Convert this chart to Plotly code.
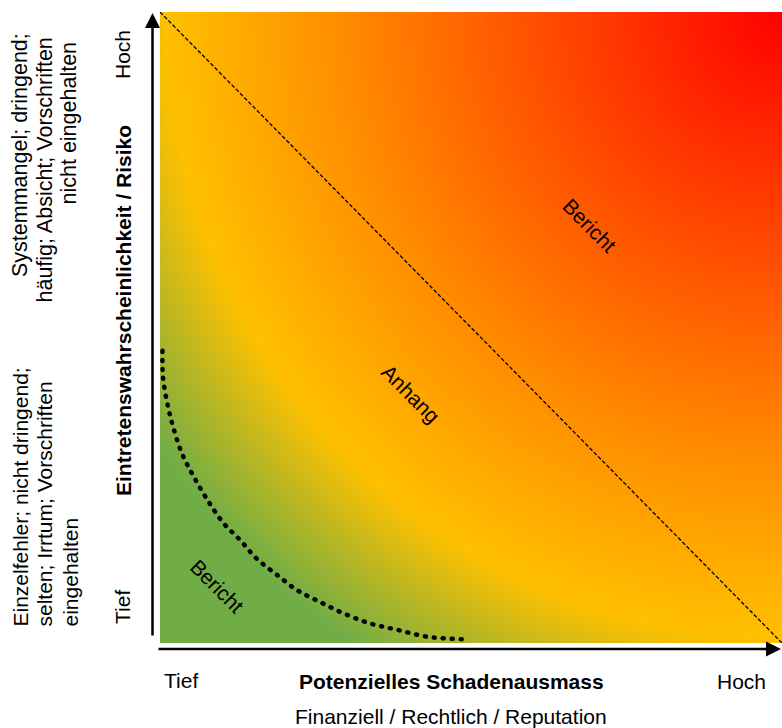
import numpy as np
import plotly.graph_objects as go

W, H = 782, 728
FONT = "Liberation Sans, Arial, sans-serif"

# ---- texts ----
x_title = "Potenzielles Schadenausmass"
x_subtitle = "Finanziell / Rechtlich / Reputation"
y_title = "Eintretenswahrscheinlichkeit / Risiko"
tick_low, tick_high = "Tief", "Hoch"
high_desc = ["Systemmangel; dringend;", "häufig; Absicht; Vorschriften", "nicht eingehalten"]
low_desc = ["Einzelfehler; nicht dringend;", "selten; Irrtum; Vorschriften", "eingehalten"]

# ---- zone labels (data coords: x = Schadenausmass 0..1, y = Wahrscheinlichkeit 0..1) ----
zone_labels = ["Bericht", "Anhang", "Bericht"]
zone_x = [0.691, 0.403, 0.092]
zone_y = [0.662, 0.396, 0.089]

# ---- threshold lines ----
diag_x = [0.0, 1.0]
diag_y = [1.0, 0.0]
curve_x = [0.004, 0.005, 0.013, 0.021, 0.035, 0.054, 0.078, 0.102, 0.129, 0.155,
           0.188, 0.220, 0.257, 0.295, 0.338, 0.381, 0.429, 0.485]
curve_y = [0.463, 0.420, 0.374, 0.343, 0.301, 0.264, 0.224, 0.190, 0.163, 0.134,
           0.108, 0.084, 0.065, 0.047, 0.031, 0.021, 0.010, 0.006]

# ---- background gradient (radial from the high/high corner) ----
grad_stops = [0.0, 0.50, 0.70, 0.86, 1.0]
grad_colors = ["#FF0000", "#FF8C00", "#FFC000", "#70AD47", "#70AD47"]

N = 240
gx = np.linspace(0, 1, N)
gy = np.linspace(0, 1, N)
GX, GY = np.meshgrid(gx, gy)
Z = np.sqrt((1 - GX) ** 2 + (1 - GY) ** 2) / np.sqrt(2)

fig = go.Figure()
fig.add_trace(go.Heatmap(
    x=gx, y=gy, z=Z, zmin=0, zmax=1, zsmooth="best",
    colorscale=[[s, c] for s, c in zip(grad_stops, grad_colors)],
    showscale=False, hoverinfo="skip"))

fig.add_trace(go.Scatter(x=diag_x, y=diag_y, mode="lines",
                         line=dict(color="black", width=1.3, dash="4px,2px"),
                         hoverinfo="skip", showlegend=False))
fig.add_trace(go.Scatter(x=curve_x, y=curve_y, mode="lines",
                         line=dict(color="black", width=4.5, dash="1px,8px", shape="spline"),
                         hoverinfo="skip", showlegend=False))

x0, y0 = 160, 643   # pixel position of plot corner (for domain)
x1, y1 = 782, 12

def px(x):
    return x / W

def py(y):
    return 1 - y / H

fig.update_layout(
    width=W, height=H,
    margin=dict(l=0, r=0, t=0, b=0),
    paper_bgcolor="white", plot_bgcolor="white",
    showlegend=False,
    xaxis=dict(domain=[px(x0), px(x1)], range=[0, 1], visible=False, fixedrange=True),
    yaxis=dict(domain=[py(y0), py(y1)], range=[0, 1], visible=False, fixedrange=True),
)

ann = []
# zone labels
for t, zx, zy in zip(zone_labels, zone_x, zone_y):
    ann.append(dict(x=zx, y=zy, xref="x", yref="y", text=t, showarrow=False,
                    textangle=45, font=dict(family=FONT, size=21, color="black")))

# axis arrows (paper anchored, tail offset in pixels)
ann.append(dict(x=px(152.5), y=py(13), xref="paper", yref="paper",
                ax=0, ay=624, axref="pixel", ayref="pixel", text="", showarrow=True,
                arrowhead=2, arrowwidth=2.5, arrowsize=1.2, arrowcolor="black"))
ann.append(dict(x=px(786), y=py(649), xref="paper", yref="paper",
                ax=-629, ay=0, axref="pixel", ayref="pixel", text="", showarrow=True,
                arrowhead=2, arrowwidth=2.5, arrowsize=1.2, arrowcolor="black"))

def txt(text, x, y, angle=0, bold=False, xanchor="center", yanchor="middle", size=21):
    ann.append(dict(x=px(x), y=py(y), xref="paper", yref="paper",
                    text=f"<b>{text}</b>" if bold else text, showarrow=False,
                    textangle=angle, xanchor=xanchor, yanchor=yanchor,
                    font=dict(family=FONT, size=size, color="black")))

# horizontal axis texts
txt(tick_low, 181, 680)
txt(x_title, 451, 681, bold=True)
txt(tick_high, 741, 681)
txt(x_subtitle, 451, 716)

# vertical axis texts
txt(tick_high, 123, 54, angle=-90)
txt(tick_low, 122, 607, angle=-90)
txt(y_title, 123, 310, angle=-90, bold=True)

# descriptive blocks
for line, lx, top in zip(high_desc, [20, 44, 68], [31, 36, 40]):
    txt(line, lx, top, angle=-90, yanchor="top", size=21.5)
for line, lx in zip(low_desc, [20, 44, 70]):
    txt(line, lx, 629, angle=-90, yanchor="bottom", size=21)

fig.update_layout(annotations=ann)
post = (
    "document.body.style.margin='0';document.body.style.overflow='hidden';"
    "var tr=document.querySelectorAll('.scatterlayer .trace');"
    "if(tr.length){var p=tr[tr.length-1].querySelector('path.js-line');"
    "if(p){p.style.strokeLinecap='round';}}"
)
fig.write_html("out.html", config={"displayModeBar": False}, post_script=post)
